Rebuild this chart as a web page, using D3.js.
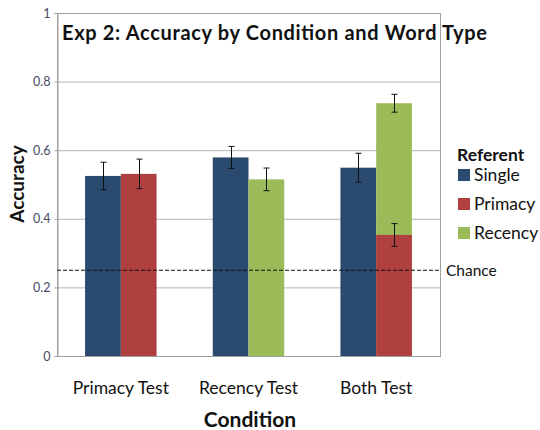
<!DOCTYPE html>
<html>
<head>
<meta charset="utf-8">
<script src="https://cdn.jsdelivr.net/npm/d3@7"></script>
<style>
  body { margin: 0; background: #fff; }
  svg { display: block; font-family: Lato, "Open Sans", sans-serif; }
</style>
</head>
<body>
<svg id="chart" width="540" height="430"></svg>
<script>
// values
const conditions = ["Primacy Test", "Recency Test", "Both Test"];
const referents = ["Single", "Primacy", "Recency"];
const singleAcc = [0.525, 0.579, 0.549];
const singleErr = [0.040, 0.032, 0.042];
const primacyAcc = [0.531, null, 0.353];
const primacyErr = [0.043, null, 0.033];
const recencyAcc = [null, 0.515, 0.737];
const recencyErr = [null, 0.033, 0.026];
const chance = 0.25;
const yTicks = [0, 0.2, 0.4, 0.6, 0.8, 1];

const colors = { Single: "#2b4a6f", Primacy: "#b0403f", Recency: "#9bbb59" };

const svg = d3.select("#chart");
const plotL = 57, plotR = 440, plotT = 13, plotB = 356;

const x0 = d3.scaleBand().domain(conditions).range([plotL, plotR])
  .paddingInner(0.44).paddingOuter(0.22);
const x1 = d3.scaleBand().domain([0, 1]).range([0, x0.bandwidth()]);
const y = d3.scaleLinear().domain([0, 1]).range([plotB, plotT]);

// gridlines
svg.append("g")
  .attr("transform", `translate(${plotL},0)`)
  .call(d3.axisLeft(y).tickValues(yTicks).tickSize(-(plotR - plotL)).tickFormat(""))
  .call(g => g.select(".domain").remove())
  .call(g => g.selectAll("line").attr("stroke", "#b4b4b4"));

// bars: single in slot 0, recency drawn before primacy so primacy sits in front
let bars = [];
conditions.forEach((c, i) => {
  bars.push({ c, ref: "Single", slot: 0, v: singleAcc[i], e: singleErr[i] });
  if (recencyAcc[i] != null) bars.push({ c, ref: "Recency", slot: 1, v: recencyAcc[i], e: recencyErr[i] });
  if (primacyAcc[i] != null) bars.push({ c, ref: "Primacy", slot: 1, v: primacyAcc[i], e: primacyErr[i] });
});

svg.append("g").selectAll("rect").data(bars).join("rect")
  .attr("x", d => x0(d.c) + x1(d.slot))
  .attr("width", x1.bandwidth())
  .attr("y", d => y(d.v))
  .attr("height", d => y(0) - y(d.v))
  .attr("fill", d => colors[d.ref]);

// error bars
const eb = svg.append("g").attr("stroke", "#111").attr("stroke-width", 1);
bars.forEach(d => {
  const cx = Math.round(x0(d.c) + x1(d.slot) + x1.bandwidth() / 2) + 0.5;
  eb.append("line").attr("x1", cx).attr("x2", cx).attr("y1", y(d.v + d.e)).attr("y2", y(d.v - d.e));
  eb.append("line").attr("x1", cx - 3).attr("x2", cx + 3).attr("y1", y(d.v + d.e)).attr("y2", y(d.v + d.e));
  eb.append("line").attr("x1", cx - 3).attr("x2", cx + 3).attr("y1", y(d.v - d.e)).attr("y2", y(d.v - d.e));
});

// plot frame
svg.append("rect")
  .attr("x", plotL + 0.5).attr("y", plotT + 0.5)
  .attr("width", plotR - plotL).attr("height", plotB - plotT)
  .attr("fill", "none").attr("stroke", "#a0a0a0");

// y axis ticks + labels
svg.append("g")
  .attr("transform", `translate(${plotL + 0.5},0)`)
  .call(d3.axisLeft(y).tickValues(yTicks).tickSize(3).tickPadding(4).tickFormat(d => String(d)))
  .call(g => g.select(".domain").attr("stroke", "#a0a0a0"))
  .call(g => g.selectAll("line").attr("stroke", "#a0a0a0"))
  .call(g => g.selectAll("text").attr("fill", "#4a4a66").attr("font-size", 12.5)
    .attr("font-family", "Lato, sans-serif"));

// chance line
svg.append("line")
  .attr("x1", plotL).attr("x2", plotR)
  .attr("y1", y(chance)).attr("y2", y(chance))
  .attr("stroke", "#111").attr("stroke-width", 1.2).attr("stroke-dasharray", "4,2");
svg.append("text").attr("x", 446).attr("y", y(chance)).attr("dy", "0.35em")
  .attr("font-size", 15.5).attr("fill", "#111").text("Chance");

// x labels
svg.append("g").selectAll("text").data(conditions).join("text")
  .attr("x", d => x0(d) + x0.bandwidth() / 2)
  .attr("y", 388).attr("dy", "0.35em")
  .attr("text-anchor", "middle").attr("font-size", 17.5).attr("fill", "#111")
  .text(d => d);

svg.append("text").attr("x", 250).attr("y", 420).attr("dy", "0.35em")
  .attr("text-anchor", "middle").attr("font-size", 21).attr("font-weight", "bold")
  .attr("fill", "#111").text("Condition");

svg.append("text")
  .attr("transform", "translate(17,184) rotate(-90)")
  .attr("dy", "0.35em").attr("text-anchor", "middle")
  .attr("font-size", 19).attr("font-weight", "bold").attr("fill", "#111")
  .text("Accuracy");

// title
svg.append("text").attr("x", 62).attr("y", 33).attr("dy", "0.35em")
  .attr("font-size", 20).attr("font-weight", "bold").attr("fill", "#111")
  .attr("textLength", 425).attr("lengthAdjust", "spacing")
  .text("Exp 2: Accuracy by Condition and Word Type");

// legend
const lg = svg.append("g");
lg.append("text").attr("x", 457).attr("y", 155).attr("dy", "0.35em")
  .attr("font-size", 17.5).attr("font-weight", "bold").attr("fill", "#111").text("Referent");
const legY = [175, 204, 233];
referents.forEach((r, i) => {
  lg.append("rect").attr("x", 458).attr("y", legY[i] - 6).attr("width", 12).attr("height", 12)
    .attr("fill", colors[r]);
  lg.append("text").attr("x", 474).attr("y", legY[i]).attr("dy", "0.35em")
    .attr("font-size", 17.5).attr("fill", "#111").text(r);
});
</script>
</body>
</html>
